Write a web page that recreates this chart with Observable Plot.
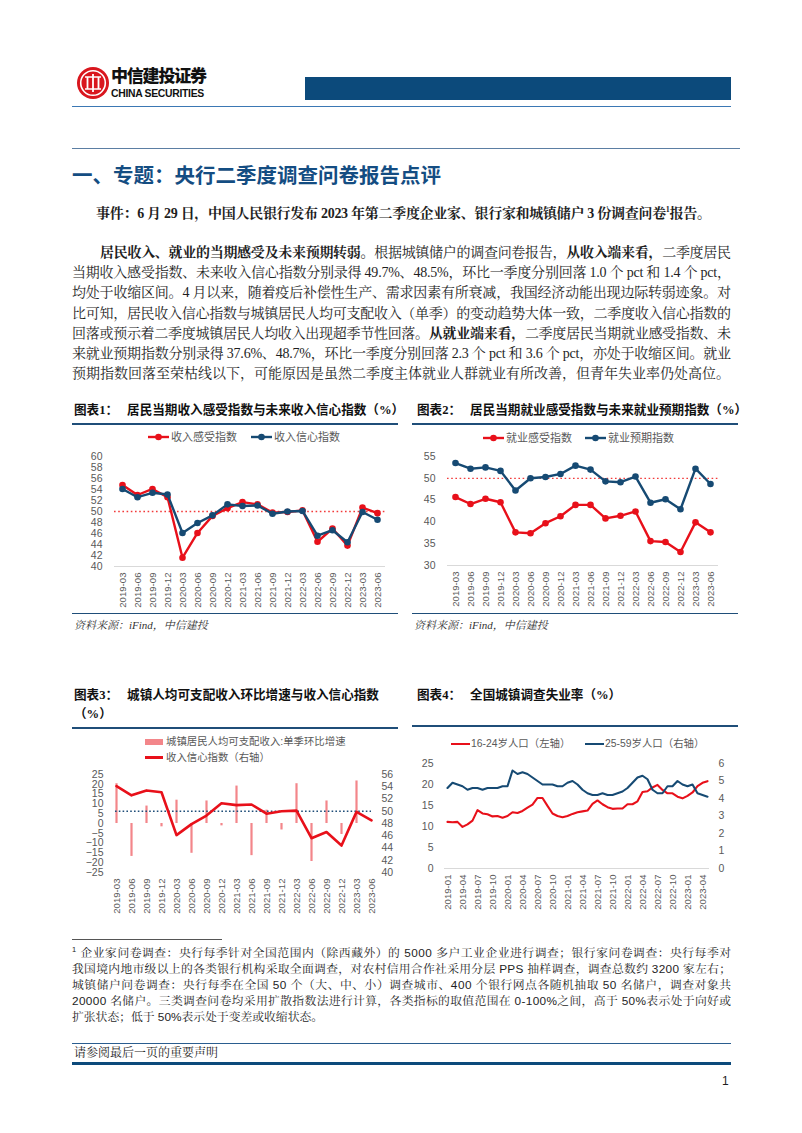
<!DOCTYPE html>
<html><head><meta charset="utf-8">
<script src="https://cdn.jsdelivr.net/npm/d3@7"></script>
<script src="https://cdn.jsdelivr.net/npm/@observablehq/plot@0.6"></script>
<style>
body{margin:0;background:#fff;}
#page{position:relative;width:802px;height:1133px;overflow:hidden;background:#fff;color:#1e1e1e;
  font-family:"Liberation Serif","Noto Serif CJK SC","Noto Sans CJK SC",serif;}
.a{position:absolute;white-space:nowrap;}
.hr{position:absolute;height:0;}
.ln{position:absolute;left:72px;white-space:nowrap;font-size:14px;line-height:20px;height:20px;}
.fn{position:absolute;left:72px;white-space:nowrap;font-size:11.8px;line-height:16px;height:16px;
  font-family:"Liberation Sans","Noto Serif CJK SC","Noto Sans CJK SC",sans-serif;}
.ct{position:absolute;white-space:nowrap;font-size:12.6px;line-height:18px;font-weight:bold;color:#111;
  font-family:"Liberation Serif","Noto Sans CJK SC",sans-serif;}
.ct .n{margin-right:9px;}
.src{position:absolute;white-space:nowrap;font-size:11px;line-height:14px;font-style:italic;color:#333;
  font-family:"Liberation Serif","Noto Serif CJK SC","Noto Sans CJK SC",serif;}
.lg{position:absolute;white-space:nowrap;font-size:11px;line-height:14px;color:#595959;
  font-family:"Liberation Sans","Noto Sans CJK SC",sans-serif;}
.lg3{font-size:10.4px;}
.chart{position:absolute;}
b{font-weight:bold;}
</style></head>
<body><div id="page">

<!-- header -->
<svg class="a" style="left:76px;top:66px" width="34" height="34" viewBox="0 0 34 34">
  <circle cx="17" cy="17" r="16" fill="#d9161e"/>
  <circle cx="17" cy="17" r="12.3" fill="none" stroke="#fff" stroke-width="1.6"/>
  <path d="M9 11 H25 M9 23 H25" stroke="#fff" stroke-width="1.6"/>
  <path d="M11.5 11 V23 M17 8 V26 M22.5 11 V23" stroke="#fff" stroke-width="1.8"/>
</svg>
<div class="a" style="left:111px;top:65px;font-size:17px;line-height:20px;font-weight:900;letter-spacing:-1.2px;color:#111;font-family:'Noto Sans CJK SC',sans-serif;">中信建投证券</div>
<div class="a" style="left:111px;top:88px;font-size:10.4px;line-height:12px;font-weight:bold;color:#111;letter-spacing:-0.3px;font-family:'Liberation Sans Narrow','Liberation Sans',sans-serif;">CHINA SECURITIES</div>
<div class="a" style="left:305px;top:77px;width:426px;height:23px;background:#0c4a7b;"></div>
<div class="hr" style="left:72px;top:106px;width:659px;border-top:1.5px solid #3b78b4;"></div>

<div class="hr" style="left:72px;top:148px;width:668px;border-top:1.5px solid #5b7ea3;"></div>
<div class="a" style="left:72px;top:161px;font-size:20.5px;line-height:26px;font-weight:bold;color:#144d82;font-family:'Noto Sans CJK SC',sans-serif;">一、专题：央行二季度调查问卷报告点评</div>

<div class="ln fitE" style="left:96px;top:204px;font-weight:bold;">事件：6 月 29 日，中国人民银行发布 2023 年第二季度企业家、银行家和城镇储户 3 份调查问卷<sup style="font-size:8px;line-height:0">1</sup>报告。</div>

<div class="ln fit" style="top:243px;padding-left:28px;"><b>居民收入、就业的当期感受及未来预期转弱。</b>根据城镇储户的调查问卷报告，<b>从收入端来看，</b>二季度居民</div>
<div class="ln fit" style="top:263px;">当期收入感受指数、未来收入信心指数分别录得 49.7%、48.5%，环比一季度分别回落 1.0 个 pct 和 1.4 个 pct，</div>
<div class="ln fit" style="top:283px;">均处于收缩区间。4 月以来，随着疫后补偿性生产、需求因素有所衰减，我国经济动能出现边际转弱迹象。对</div>
<div class="ln fit" style="top:304px;">比可知，居民收入信心指数与城镇居民人均可支配收入（单季）的变动趋势大体一致，二季度收入信心指数的</div>
<div class="ln fit" style="top:324px;">回落或预示着二季度城镇居民人均收入出现超季节性回落。<b>从就业端来看，</b>二季度居民当期就业感受指数、未</div>
<div class="ln fit" style="top:344px;">来就业预期指数分别录得 37.6%、48.7%，环比一季度分别回落 2.3 个 pct 和 3.6 个 pct，亦处于收缩区间。就业</div>
<div class="ln" style="top:364px;">预期指数回落至荣枯线以下，可能原因是虽然二季度主体就业人群就业有所改善，但青年失业率仍处高位。</div>

<!-- chart 1 frame texts -->
<div class="ct" style="left:74px;top:401px;"><span class="n">图表1：</span>居民当期收入感受指数与未来收入信心指数（%）</div>
<div class="hr" style="left:72px;top:423px;width:326px;border-top:2px solid #1f4e79;"></div>
<svg class="a" style="left:148px;top:431px" width="22" height="12"><line x1="0" y1="6" x2="21" y2="6" stroke="#e8101a" stroke-width="2.4"/><circle cx="10.5" cy="6" r="3.3" fill="#e8101a"/></svg>
<div class="lg" style="left:171px;top:430px;">收入感受指数</div>
<svg class="a" style="left:251px;top:431px" width="22" height="12"><line x1="0" y1="6" x2="21" y2="6" stroke="#164a73" stroke-width="2.4"/><circle cx="10.5" cy="6" r="3.3" fill="#164a73"/></svg>
<div class="lg" style="left:274px;top:430px;">收入信心指数</div>
<div id="c1" class="chart" style="left:72px;top:446px;"></div>
<div class="hr" style="left:72px;top:613px;width:326px;border-top:1.5px solid #1f4e79;"></div>
<div class="src" style="left:74px;top:618px;">资料来源：iFind，中信建投</div>

<!-- chart 2 -->
<div class="ct" style="left:417px;top:401px;"><span class="n">图表2：</span>居民当期就业感受指数与未来就业预期指数（%）</div>
<div class="hr" style="left:412px;top:423px;width:326px;border-top:2px solid #1f4e79;"></div>
<svg class="a" style="left:483px;top:432px" width="22" height="12"><line x1="0" y1="6" x2="21" y2="6" stroke="#e8101a" stroke-width="2.4"/><circle cx="10.5" cy="6" r="3.3" fill="#e8101a"/></svg>
<div class="lg" style="left:506px;top:431px;">就业感受指数</div>
<svg class="a" style="left:585px;top:432px" width="22" height="12"><line x1="0" y1="6" x2="21" y2="6" stroke="#164a73" stroke-width="2.4"/><circle cx="10.5" cy="6" r="3.3" fill="#164a73"/></svg>
<div class="lg" style="left:608px;top:431px;">就业预期指数</div>
<div id="c2" class="chart" style="left:412px;top:446px;"></div>
<div class="hr" style="left:412px;top:613px;width:326px;border-top:1.5px solid #1f4e79;"></div>
<div class="src" style="left:414px;top:618px;">资料来源：iFind，中信建投</div>

<!-- chart 3 -->
<div class="ct" style="left:74px;top:686px;"><span class="n">图表3：</span>城镇人均可支配收入环比增速与收入信心指数</div>
<div class="ct" style="left:74px;top:705px;">（%）</div>
<div class="hr" style="left:72px;top:727px;width:326px;border-top:2px solid #1f4e79;"></div>
<div class="a" style="left:145px;top:739px;width:18px;height:6px;background:#f3868a;"></div>
<div class="lg lg3" style="left:166px;top:735px;">城镇居民人均可支配收入:单季环比增速</div>
<div class="a" style="left:145px;top:756px;width:18px;height:2.5px;background:#e8101a;"></div>
<div class="lg lg3" style="left:166px;top:751px;">收入信心指数（右轴）</div>
<div id="c3" class="chart" style="left:72px;top:766px;"></div>

<!-- chart 4 -->
<div class="ct" style="left:417px;top:686px;"><span class="n">图表4：</span>全国城镇调查失业率（%）</div>
<div class="hr" style="left:412px;top:725px;width:326px;border-top:2px solid #1f4e79;"></div>
<div class="a" style="left:451px;top:743px;width:19px;height:2.4px;background:#e8101a;"></div>
<div class="lg lg3" style="left:471px;top:737px;">16-24岁人口（左轴）</div>
<div class="a" style="left:585px;top:743px;width:19px;height:2.4px;background:#164a73;"></div>
<div class="lg lg3" style="left:605px;top:737px;">25-59岁人口（右轴）</div>
<div id="c4" class="chart" style="left:412px;top:755px;"></div>

<!-- footnote -->
<div class="hr" style="left:72px;top:939px;width:150px;border-top:1px solid #555;"></div>
<div class="fn fit" style="top:945px;"><sup style="font-size:7.5px;line-height:0">1</sup> 企业家问卷调查：央行每季针对全国范围内（除西藏外）的 5000 多户工业企业进行调查；银行家问卷调查：央行每季对</div>
<div class="fn fit" style="top:961px;">我国境内地市级以上的各类银行机构采取全面调查，对农村信用合作社采用分层 PPS 抽样调查，调查总数约 3200 家左右；</div>
<div class="fn fit" style="top:977px;">城镇储户问卷调查：央行每季在全国 50 个（大、中、小）调查城市、400 个银行网点各随机抽取 50 名储户，调查对象共</div>
<div class="fn fit" style="top:993px;">20000 名储户。三类调查问卷均采用扩散指数法进行计算，各类指标的取值范围在 0-100%之间，高于 50%表示处于向好或</div>
<div class="fn" style="top:1009px;">扩张状态；低于 50%表示处于变差或收缩状态。</div>

<div class="hr" style="left:72px;top:1043px;width:659px;border-top:1.5px solid #2a5d8f;"></div>
<div class="a" style="left:74px;top:1045px;font-size:12px;line-height:16px;">请参阅最后一页的重要声明</div>
<div class="hr" style="left:72px;top:1062px;width:659px;border-top:3px solid #0c4a7b;"></div>
<div class="a" style="left:722px;top:1073px;font-size:12px;line-height:16px;font-family:'Liberation Sans',sans-serif;">1</div>

</div>
<script>
// ---------- data ----------
const quarters = ["2019-03","2019-06","2019-09","2019-12","2020-03","2020-06","2020-09","2020-12","2021-03","2021-06","2021-09","2021-12","2022-03","2022-06","2022-09","2022-12","2023-03","2023-06"];
const incomeFeel = [54.8,53.0,54.1,52.6,41.6,46.1,49.2,50.6,51.7,51.3,49.8,49.9,50.2,44.5,46.9,43.8,50.7,49.7];
const incomeConf = [54.1,52.6,53.4,53.1,46.1,47.9,49.3,51.3,51.0,51.1,49.6,50.0,50.1,45.6,46.6,44.4,49.9,48.5];
const jobFeel   = [45.7,44.1,45.3,44.5,37.6,37.4,39.7,41.3,43.9,43.9,40.8,41.4,42.4,35.6,35.4,33.1,39.9,37.6];
const jobExpect = [53.5,52.2,52.5,51.7,47.2,50.0,50.3,51.0,52.9,52.0,49.3,49.1,50.4,44.4,45.2,42.9,52.2,48.7];
const incomeQoQ = [20.3,-16.8,8.9,-1.7,11.9,-15.2,11.5,-1.2,19.1,-16.4,6.8,-3.3,20.3,-19.4,11.5,-5.6,21.7,null];

const yTicks1 = [40,42,44,46,48,50,52,54,56,58,60];
const yTicks2 = [30,35,40,45,50,55];
const yTicks3L = [-25,-20,-15,-10,-5,0,5,10,15,20,25];
const yTicks3R = [40,42,44,46,48,50,52,54,56];
const yTicks4L = [0,5,10,15,20,25];
const yTicks4R = [0,1,2,3,4,5,6];

const months = [];
for (const y of [2019,2020,2021,2022,2023]) for (let m = 1; m <= 12; m++) { if (y === 2023 && m > 5) break; months.push(`${y}-${String(m).padStart(2,"0")}`); }
const monthTicks = ["2019-01","2019-04","2019-07","2019-10","2020-01","2020-04","2020-07","2020-10","2021-01","2021-04","2021-07","2021-10","2022-01","2022-04","2022-07","2022-10","2023-01","2023-04"];
const youthRate = [11.1,11.0,11.1,9.9,10.5,11.4,13.9,13.1,12.9,12.4,12.5,12.1,
                   12.5,13.4,13.2,13.7,14.5,15.2,16.8,16.8,14.9,13.1,12.5,12.2,
                   12.5,13.0,13.4,13.6,13.8,15.4,16.2,15.3,14.6,14.2,14.3,14.3,
                   15.3,15.3,16.0,18.2,18.4,19.3,19.9,18.7,17.9,17.9,17.1,16.7,
                   17.3,18.1,19.6,20.4,20.8];
const adultRate = [4.6,4.9,4.8,4.7,4.5,4.6,4.6,4.5,4.6,4.6,4.6,4.7,
                   4.7,5.6,5.4,5.5,5.4,5.2,5.0,4.8,4.8,4.8,4.7,4.7,
                   4.9,5.0,4.8,4.5,4.3,4.2,4.2,4.3,4.2,4.2,4.3,4.4,
                   4.6,4.9,5.2,5.3,5.1,4.5,4.3,4.3,4.7,4.7,5.0,4.8,
                   4.7,4.8,4.3,4.2,4.1];

const RED = "#e8101a", BLUE = "#164a73", PINK = "#f3868a", AXC = "#595959";
const FONT = '"Liberation Sans","Noto Sans CJK SC",sans-serif';
const baseStyle = {fontFamily: FONT, fontSize: "10px", color: AXC, background: "transparent", overflow: "visible"};

function rows(cats, vals) { return cats.map((c, i) => ({c, v: vals[i]})).filter(d => d.v != null); }

// ---------- chart 1 & 2 ----------
function markerChart(id, {yDomain, yTicks, ml, mr, mb, series}) {
  const marks = [
    Plot.ruleY([yDomain[0]], {stroke: "#d9d9d9", strokeWidth: 1}),
    Plot.ruleY([50], {stroke: "#f23a3a", strokeWidth: 1.3, strokeDasharray: "1.6,2.6"}),
    Plot.axisY({ticks: yTicks, tickSize: 0, tickPadding: 12, label: null, fontSize: 10.5}),
    Plot.axisX({tickRotate: -90, tickSize: 0, tickPadding: 6, label: null, fontSize: 9.6})
  ];
  for (const s of series) {
    const d = rows(quarters, s.values);
    marks.push(Plot.line(d, {x: "c", y: "v", stroke: s.color, strokeWidth: 2.4}));
    marks.push(Plot.dot(d, {x: "c", y: "v", r: 3.3, fill: s.color}));
  }
  const svg = Plot.plot({
    width: 326, height: 165, marginTop: 10, marginBottom: mb, marginLeft: ml, marginRight: mr,
    x: {type: "point", domain: quarters, padding: 0},
    y: {domain: yDomain},
    style: baseStyle, marks
  });
  document.getElementById(id).appendChild(svg);
}
markerChart("c1", {yDomain: [40, 60], yTicks: yTicks1, ml: 42, mr: 13, mb: 45,
  series: [{values: incomeFeel, color: RED}, {values: incomeConf, color: BLUE}]});
markerChart("c2", {yDomain: [30, 55], yTicks: yTicks2, ml: 35, mr: 20, mb: 46,
  series: [{values: jobFeel, color: RED}, {values: jobExpect, color: BLUE}]});

// ---------- chart 3 ----------
{
  const toL = v => -25 + (v - 40) * 50 / 16;
  const fromL = v => 40 + (v + 25) * 16 / 50;
  const bars = rows(quarters, incomeQoQ);
  const line = rows(quarters, incomeConf).map(d => ({c: d.c, v: toL(d.v)}));
  const svg = Plot.plot({
    width: 326, height: 140, marginTop: 8, marginBottom: 34, marginLeft: 43, marginRight: 27,
    x: {type: "point", domain: quarters, padding: 0},
    y: {domain: [-25, 25]},
    style: baseStyle,
    marks: [
      Plot.ruleX(bars, {x: "c", y1: 0, y2: "v", stroke: PINK, strokeWidth: 2.2}),
      Plot.ruleY([toL(50)], {stroke: "#1f4e79", strokeWidth: 1.3, strokeDasharray: "1.6,2.2"}),
      Plot.line(line, {x: "c", y: "v", stroke: RED, strokeWidth: 2.6}),
      Plot.axisY({ticks: yTicks3L, tickSize: 0, tickPadding: 12, label: null, fontSize: 10.5}),
      Plot.axisY({anchor: "right", ticks: yTicks3R.map(toL), tickFormat: d => String(Math.round(fromL(d))), tickSize: 0, tickPadding: 10, label: null, fontSize: 10.5}),
      Plot.axisX({tickRotate: -90, tickSize: 0, tickPadding: 6, label: null, fontSize: 9.6})
    ]
  });
  document.getElementById("c3").appendChild(svg);
}

// ---------- chart 4 ----------
{
  const toL = v => v * 25 / 6;
  const fromL = v => v * 6 / 25;
  const youth = rows(months, youthRate);
  const adult = rows(months, adultRate).map(d => ({c: d.c, v: toL(d.v)}));
  const svg = Plot.plot({
    width: 326, height: 150, marginTop: 8, marginBottom: 37, marginLeft: 32, marginRight: 29,
    x: {type: "point", domain: months, padding: 0},
    y: {domain: [0, 25]},
    style: baseStyle,
    marks: [
      Plot.ruleY([0], {stroke: "#d9d9d9", strokeWidth: 1}),
      Plot.line(youth, {x: "c", y: "v", stroke: RED, strokeWidth: 2.1}),
      Plot.line(adult, {x: "c", y: "v", stroke: BLUE, strokeWidth: 2.1}),
      Plot.axisY({ticks: yTicks4L, tickSize: 0, tickPadding: 11, label: null, fontSize: 10.5}),
      Plot.axisY({anchor: "right", ticks: yTicks4R.map(toL), tickFormat: d => String(Math.round(fromL(d))), tickSize: 0, tickPadding: 9, label: null, fontSize: 10.5}),
      Plot.axisX({ticks: monthTicks, tickRotate: -90, tickSize: 0, tickPadding: 6, label: null, fontSize: 9.6})
    ]
  });
  document.getElementById("c4").appendChild(svg);
}

// ---------- justify text lines ----------
function fitAll() {
  const fitTo = (el, target) => {
    el.style.letterSpacing = "0px";
    const w = el.getBoundingClientRect().width;
    const n = [...el.textContent].length;
    if (n > 1) el.style.letterSpacing = ((target - w) / (n - 1)) + "px";
  };
  document.querySelectorAll(".fit").forEach(el => fitTo(el, 659));
  document.querySelectorAll(".fitE").forEach(el => fitTo(el, 615));
}
fitAll();
if (document.fonts && document.fonts.ready) document.fonts.ready.then(fitAll);
</script>
</body></html>
